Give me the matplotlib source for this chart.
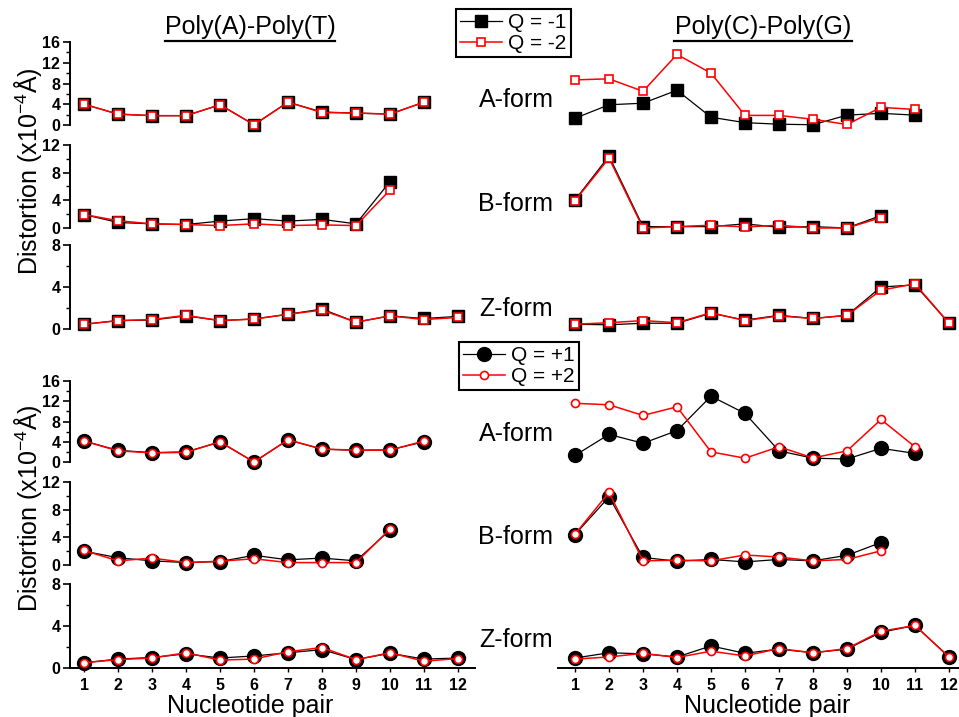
import matplotlib
matplotlib.use("Agg")
import matplotlib.pyplot as plt
from matplotlib.lines import Line2D
from matplotlib.ticker import MultipleLocator

plt.rcParams["font.family"] = ["Liberation Sans", "DejaVu Sans"]
plt.rcParams["mathtext.fontset"] = "custom"
plt.rcParams["mathtext.rm"] = "Liberation Sans"
plt.rcParams["mathtext.it"] = "Liberation Sans"

pairs = list(range(1, 13))
forms = ["A-form", "B-form", "Z-form"]
form_ymax = [16, 12, 8]

# Poly(A)-Poly(T), Q = -1 / -2
at_a_m1 = [4.0, 2.1, 1.8, 1.8, 3.9, 0.05, 4.4, 2.5, 2.3, 2.1, 4.4]
at_a_m2 = [4.0, 2.1, 1.8, 1.8, 3.9, 0.05, 4.4, 2.4, 2.3, 2.1, 4.4]
at_b_m1 = [1.95, 0.8, 0.6, 0.5, 1.0, 1.35, 1.0, 1.25, 0.6, 6.7]
at_b_m2 = [1.95, 1.05, 0.6, 0.5, 0.35, 0.6, 0.35, 0.45, 0.35, 5.5]
at_z_m1 = [0.45, 0.8, 0.85, 1.25, 0.8, 0.95, 1.4, 1.9, 0.65, 1.25, 1.0, 1.2]
at_z_m2 = [0.45, 0.8, 0.9, 1.3, 0.8, 0.95, 1.4, 1.8, 0.65, 1.25, 0.9, 1.1]

# Poly(C)-Poly(G), Q = -1 / -2
cg_a_m1 = [1.3, 3.9, 4.2, 6.7, 1.5, 0.45, 0.15, 0.05, 1.9, 2.25, 1.9]
cg_a_m2 = [8.7, 8.9, 6.5, 13.6, 10.0, 1.85, 1.85, 1.1, 0.1, 3.4, 3.0]
cg_b_m1 = [4.05, 10.4, 0.2, 0.2, 0.2, 0.6, 0.1, 0.2, 0.0, 1.8]
cg_b_m2 = [3.95, 10.1, 0.0, 0.2, 0.4, 0.15, 0.4, 0.0, 0.0, 1.5]
cg_z_m1 = [0.45, 0.4, 0.55, 0.55, 1.5, 0.85, 1.3, 1.0, 1.3, 4.0, 4.2, 0.55]
cg_z_m2 = [0.45, 0.6, 0.8, 0.6, 1.55, 0.8, 1.25, 1.0, 1.3, 3.7, 4.3, 0.55]

# Poly(A)-Poly(T), Q = +1 / +2
at_a_p1 = [4.15, 2.3, 1.85, 2.0, 3.95, 0.0, 4.35, 2.55, 2.3, 2.4, 4.0]
at_a_p2 = [4.15, 2.2, 1.8, 1.9, 4.0, 0.0, 4.4, 2.55, 2.35, 2.35, 4.15]
at_b_p1 = [2.0, 1.05, 0.6, 0.35, 0.5, 1.4, 0.75, 1.0, 0.6, 5.05]
at_b_p2 = [2.1, 0.6, 1.0, 0.35, 0.55, 0.9, 0.35, 0.35, 0.35, 5.2]
at_z_p1 = [0.5, 0.85, 1.0, 1.35, 0.95, 1.15, 1.45, 1.75, 0.8, 1.4, 0.85, 0.95]
at_z_p2 = [0.5, 0.8, 0.95, 1.45, 0.75, 0.85, 1.55, 1.95, 0.8, 1.45, 0.65, 0.9]

# Poly(C)-Poly(G), Q = +1 / +2
cg_a_p1 = [1.3, 5.45, 3.7, 6.2, 13.0, 9.6, 2.2, 0.75, 0.6, 2.7, 1.7]
cg_a_p2 = [11.6, 11.3, 9.2, 10.9, 2.0, 0.75, 3.0, 0.8, 2.2, 8.4, 3.0]
cg_b_p1 = [4.4, 9.85, 1.1, 0.55, 0.8, 0.45, 0.8, 0.6, 1.4, 3.25]
cg_b_p2 = [4.45, 10.5, 0.6, 0.7, 0.6, 1.45, 1.15, 0.6, 0.8, 2.05]
cg_z_p1 = [0.95, 1.45, 1.35, 1.05, 2.1, 1.4, 1.8, 1.45, 1.8, 3.4, 4.05, 1.05]
cg_z_p2 = [0.85, 1.05, 1.4, 1.0, 1.6, 1.15, 1.85, 1.45, 1.85, 3.5, 4.05, 1.05]

W, H = 959, 717
fig = plt.figure(figsize=(W / 100, H / 100), dpi=100)


def px_axes(x0, x1, y0, y1):
    return fig.add_axes([x0 / W, 1 - y1 / H, (x1 - x0) / W, (y1 - y0) / H])


def draw_series(ax, black, red, marker):
    big = 10 if marker == "o" else 9
    small = 5.8
    l1, = ax.plot(pairs[:len(black)], black, color="black", lw=0.9, marker=marker,
                  ms=big, mfc="black", mec="black", clip_on=False, zorder=3)
    l2, = ax.plot(pairs[:len(red)], red, color="red", lw=1.1, marker=marker,
                  ms=small, mfc="white", mec="red", mew=1.2, clip_on=False, zorder=4)
    return l1, l2


halves = [
    {
        "rows": [(42, 125), (145, 228), (245, 329)],
        "at": [(at_a_m1, at_a_m2), (at_b_m1, at_b_m2), (at_z_m1, at_z_m2)],
        "cg": [(cg_a_m1, cg_a_m2), (cg_b_m1, cg_b_m2), (cg_z_m1, cg_z_m2)],
        "marker": "s",
        "labels": ["Q = -1", "Q = -2"],
        "legend_xy": (456, 9),
        "form_y": [100, 204, 309],
        "ylabel_y": 171,
        "bottom_axis": False,
    },
    {
        "rows": [(381, 462), (482, 565), (584, 668)],
        "at": [(at_a_p1, at_a_p2), (at_b_p1, at_b_p2), (at_z_p1, at_z_p2)],
        "cg": [(cg_a_p1, cg_a_p2), (cg_b_p1, cg_b_p2), (cg_z_p1, cg_z_p2)],
        "marker": "o",
        "labels": ["Q = +1", "Q = +2"],
        "legend_xy": (459, 342),
        "form_y": [434, 537, 640],
        "ylabel_y": 508,
        "bottom_axis": True,
    },
]

for half in halves:
    handles = None
    for i, (y0, y1) in enumerate(half["rows"]):
        ymax = form_ymax[i]
        last = i == 2 and half["bottom_axis"]

        # left column: Poly(A)-Poly(T)
        ax = px_axes(70, 475, y0, y1)
        ax.set_xlim(0.588, 12.5)
        ax.set_ylim(0, ymax)
        for s in ["top", "right", "bottom"]:
            ax.spines[s].set_visible(False)
        ax.spines["left"].set_linewidth(1.4)
        ax.yaxis.set_major_locator(MultipleLocator(4))
        ax.yaxis.set_minor_locator(MultipleLocator(2))
        ax.tick_params(axis="y", which="major", length=5, width=1.2, pad=2, labelsize=11.5)
        ax.tick_params(axis="y", which="minor", length=3, width=1.0)
        for t in ax.get_yticklabels():
            t.set_fontweight("bold")
        handles = draw_series(ax, *half["at"][i], half["marker"])

        # right column: Poly(C)-Poly(G)
        axr = px_axes(558, 966, y0, y1)
        axr.set_xlim(0.5, 12.5)
        axr.set_ylim(0, ymax)
        for s in ["top", "right", "left", "bottom"]:
            axr.spines[s].set_visible(False)
        axr.set_yticks([])
        draw_series(axr, *half["cg"][i], half["marker"])

        for a in (ax, axr):
            if last:
                a.spines["bottom"].set_visible(True)
                a.spines["bottom"].set_linewidth(1.4)
                a.set_xticks(pairs)
                a.tick_params(axis="x", length=3, width=1.0, pad=4, labelsize=11.5)
                for t in a.get_xticklabels():
                    t.set_fontweight("bold")
            else:
                a.set_xticks([])

        fig.text(516 / W, 1 - half["form_y"][i] / H, forms[i], fontsize=18,
                 ha="center", va="center")

    fig.text(28 / W, 1 - half["ylabel_y"] / H, r"Distortion (x10$^{-4}$Å)",
             fontsize=18, rotation=90, ha="center", va="center")

    lx, ly = half["legend_xy"]
    leg = fig.legend(handles=list(handles), labels=half["labels"], loc="upper left",
                     bbox_to_anchor=(lx / W, 1 - ly / H), borderaxespad=0,
                     frameon=True, fancybox=False, edgecolor="black", fontsize=15,
                     handlelength=2.0, handletextpad=0.3, borderpad=0.2,
                     labelspacing=0.1)
    leg.get_frame().set_linewidth(1.5)
    leg.get_frame().set_alpha(1)

# column titles with underline
for cx, x0, x1, title in [(250, 165, 335, "Poly(A)-Poly(T)"), (763, 674, 852, "Poly(C)-Poly(G)")]:
    fig.text(cx / W, 1 - 27 / H, title, fontsize=18, ha="center", va="center")
    fig.add_artist(Line2D([x0 / W, x1 / W], [1 - 41 / H, 1 - 41 / H], color="black", lw=1.6))

# x labels
for cx in (250, 767):
    fig.text(cx / W, 1 - 713 / H, "Nucleotide pair", fontsize=18, ha="center", va="baseline")

fig.savefig("out.png", dpi=100)
